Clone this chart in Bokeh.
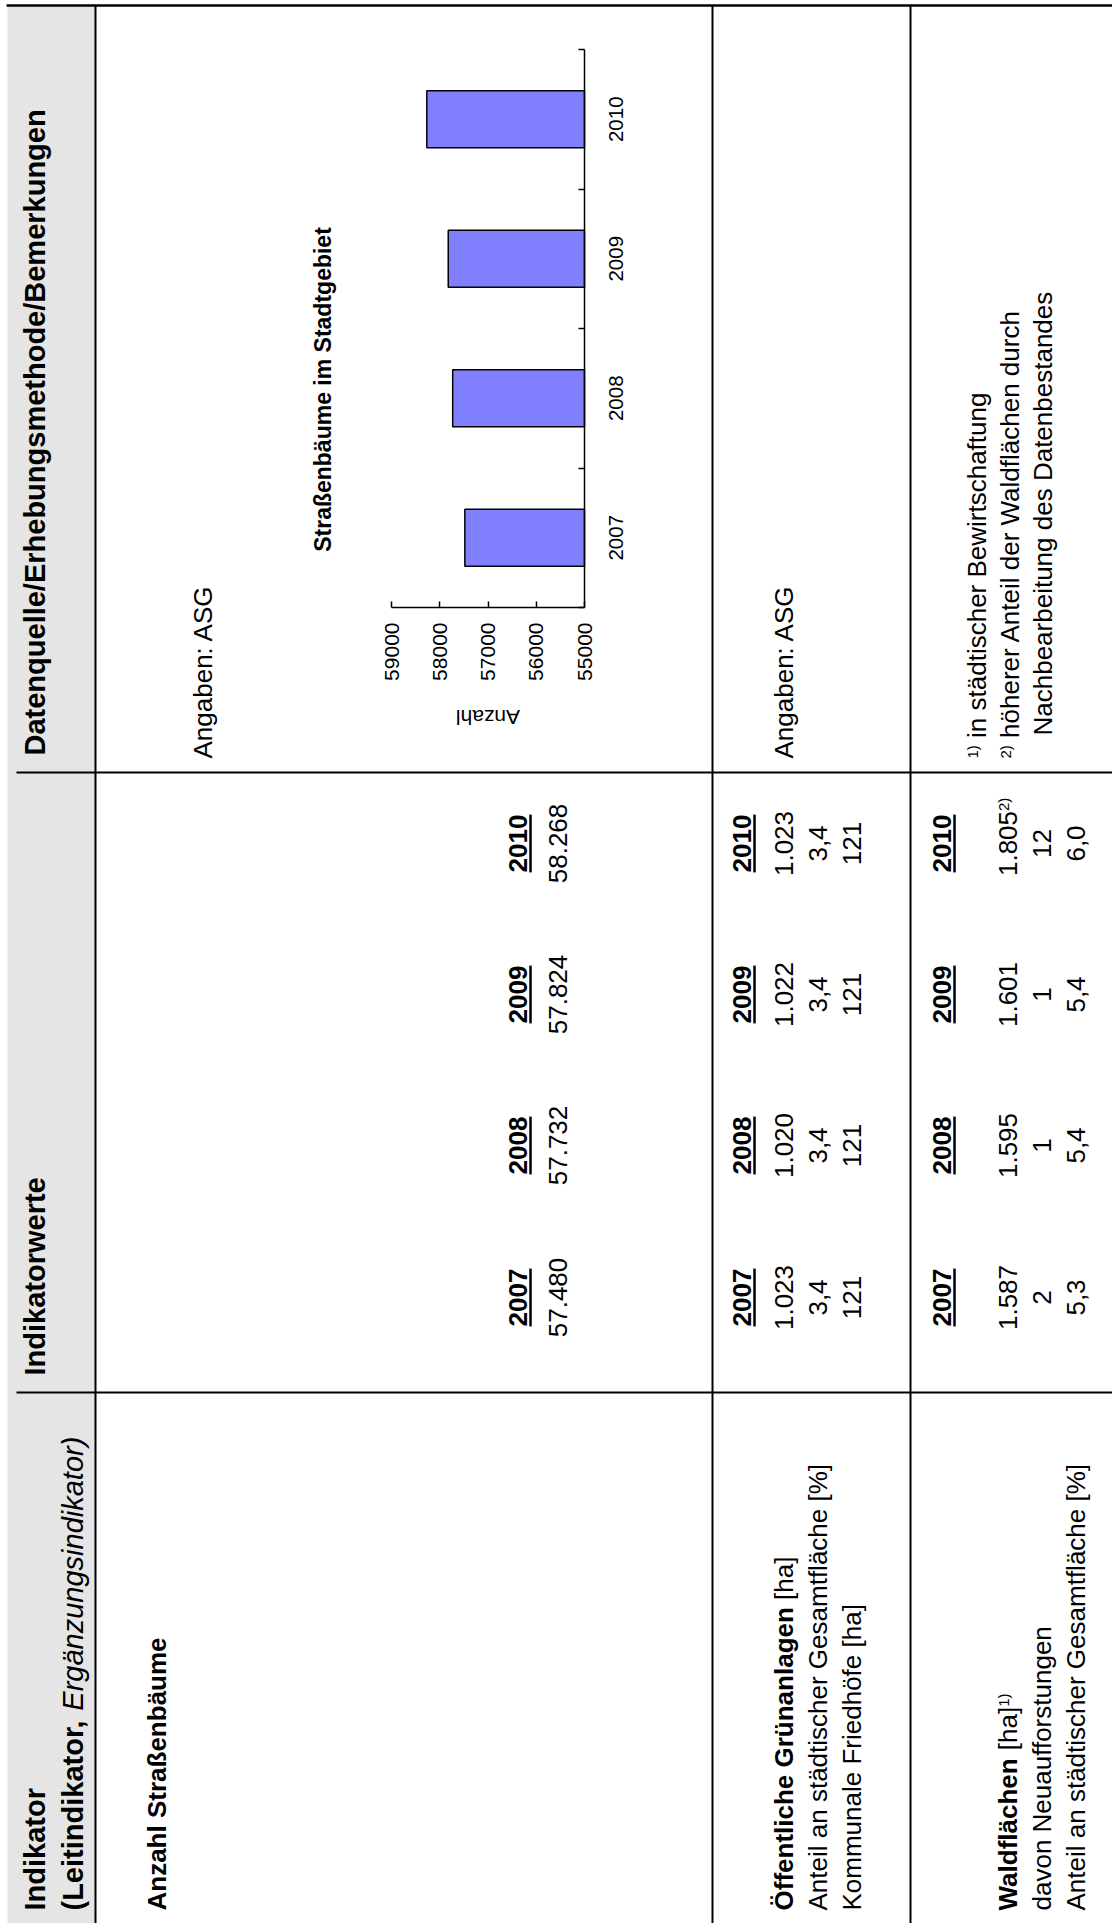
import math
from bokeh.plotting import figure
from bokeh.models import Range1d, LinearAxis, FixedTicker, ColumnDataSource, NumeralTickFormatter
from bokeh.core.properties import value
from bokeh.embed import file_html
from bokeh.resources import INLINE

# ---------------- data ----------------
years = [2007, 2008, 2009, 2010]
strassenbaeume = [57480, 57732, 57824, 58268]
gruen_flaeche = ["1.023", "1.020", "1.022", "1.023"]
gruen_anteil = ["3,4", "3,4", "3,4", "3,4"]
friedhoefe = ["121", "121", "121", "121"]
wald_flaeche = ["1.587", "1.595", "1.601", "1.805"]
wald_neu = ["2", "1", "1", "12"]
wald_anteil = ["5,3", "5,4", "5,4", "6,0"]
value_ticks = [55000, 56000, 57000, 58000, 59000]
chart_title = "Straßenbäume im Stadtgebiet"
value_axis_label = "Anzahl"
source_note = "Angaben: ASG"

# ---------------- layout (page pixels) ----------------
PAGE_W, PAGE_H = 1112, 1923
FONT = "Liberation Sans"
GRAY = "#e5e5e5"
MID = 0.3465   # offset (in em) between box middle and alphabetic baseline

p = figure(width=PAGE_W, height=PAGE_H,
           x_range=Range1d(0, PAGE_W), y_range=Range1d(-PAGE_H, 0),
           output_backend="svg", toolbar_location=None, min_border=0,
           x_axis_location=None, y_axis_location=None, title=None)
p.grid.visible = False
p.outline_line_color = None
p.background_fill_color = "white"

# character widths (Arial / Liberation Sans metrics, 1/1000 em)
REG = {' ': 278, '(': 333, ')': 333, ',': 278, '.': 278, '/': 278, ':': 278, '[': 278, ']': 278,
       '%': 889, 'A': 667, 'B': 667, 'D': 722, 'E': 667, 'F': 611, 'G': 778, 'K': 667, 'N': 722,
       'S': 667, 'W': 944, 'Ö': 778, 'a': 556, 'b': 556, 'c': 500, 'd': 556, 'e': 556, 'f': 278,
       'g': 556, 'h': 556, 'i': 222, 'k': 500, 'l': 222, 'm': 833, 'n': 556, 'o': 556, 'r': 333,
       's': 500, 't': 278, 'u': 556, 'v': 500, 'w': 722, 'z': 500, 'ä': 556, 'ö': 556, 'ü': 556, 'ß': 611}
BOLD = {' ': 278, '(': 333, ')': 333, ',': 278, '.': 278, '/': 278, 'A': 722, 'B': 722, 'D': 722,
        'E': 667, 'G': 778, 'I': 278, 'L': 611, 'S': 667, 'W': 944, 'Ö': 778, 'a': 556, 'b': 611,
        'c': 556, 'd': 611, 'e': 556, 'f': 333, 'g': 611, 'h': 611, 'i': 278, 'k': 556, 'l': 278,
        'm': 889, 'n': 611, 'o': 611, 'r': 389, 's': 556, 't': 333, 'u': 611, 'w': 778, 'z': 500,
        'ä': 556, 'ö': 611, 'ü': 611, 'ß': 611}


def tw(s, size, bold=False):
    t = BOLD if bold else REG
    return sum(t.get(c, 556) for c in s) / 1000.0 * size


items = []


def put(text, xb, ys, size, style="normal", align="left"):
    """xb: screen x of the baseline, ys: screen y where the (upward running) text starts."""
    stripped = text.lstrip(" ")
    if align == "left":
        ys -= tw(text[:len(text) - len(stripped)], size, style == "bold")
    items.append((stripped.rstrip(" "), xb, ys, size, style, align))


# ---------------- table frame ----------------
ROW_X = [95, 712, 910]          # separators between rows (vertical lines)
COL_Y = [772, 1392]             # separators between columns (horizontal lines)
TOP_Y = 5

p.quad(left=[7], right=[ROW_X[0]], top=[-TOP_Y], bottom=[-PAGE_H], fill_color=GRAY, line_color=None)
p.segment(x0=[6], y0=[-TOP_Y], x1=[PAGE_W], y1=[-TOP_Y], line_color="black", line_width=2.5)
p.segment(x0=ROW_X, y0=[-TOP_Y] * 3, x1=ROW_X, y1=[-PAGE_H] * 3, line_color="black", line_width=2)
p.segment(x0=[16, 16], y0=[-v for v in COL_Y], x1=[PAGE_W, PAGE_W], y1=[-v for v in COL_Y],
          line_color="black", line_width=2)

# ---------------- header column ----------------
H = 29
put("Datenquelle/Erhebungsmethode/Bemerkungen", 45, 755, H, "bold")
put("Indikatorwerte", 45, 1375, H, "bold")
put("Indikator", 45, 1910, H, "bold")
part = "(Leitindikator, "
put(part, 83, 1910, H, "bold")
put("Ergänzungsindikator)", 83, 1910 - tw(part, H, True), H, "italic")

# ---------------- indicator values ----------------
B = 26
SUP = 15
COLS = [1297, 1145, 994, 843]    # centres of the four year columns
underlines = []


def year_line(xb):
    for yr, yc in zip(years, COLS):
        s = str(yr)
        put(s, xb, yc, B, "bold", "center")
        w = tw(s, B, True)
        underlines.append((xb + 3, yc - w / 2, yc + w / 2))


def value_line(xb, vals):
    for v, yc in zip(vals, COLS):
        put(v, xb, yc, B, "normal", "center")


# row 1: Straßenbäume
put("Anzahl Straßenbäume", 166, 1910, B, "bold")
put(source_note, 212, 758, B)
year_line(527)
value_line(567, [f"{v:,}".replace(",", ".") for v in strassenbaeume])

# row 2: Grünanlagen
year_line(751)
value_line(793, gruen_flaeche)
value_line(827, gruen_anteil)
value_line(861, friedhoefe)
t1 = "Öffentliche Grünanlagen"
put(t1, 793, 1910, B, "bold")
put(" [ha]", 793, 1910 - tw(t1, B, True), B)
put("Anteil an städtischer Gesamtfläche [%]", 827, 1910, B)
put("Kommunale Friedhöfe [ha]", 861, 1910, B)
put(source_note, 793, 758, B)

# row 3: Waldflächen
year_line(951)
value_line(1017, wald_flaeche[:3] + [""])
put(wald_flaeche[3], 1017, COLS[3], B, "normal", "center")
put("2)", 1008, COLS[3] - tw(wald_flaeche[3], B) / 2, SUP)
value_line(1051, wald_neu)
value_line(1085, wald_anteil)
t1 = "Waldflächen"
put(t1, 1017, 1910, B, "bold")
y2 = 1910 - tw(t1, B, True)
put(" [ha]", 1017, y2, B)
put("1)", 1008, y2 - tw(" [ha]", B), SUP)
put("davon Neuaufforstungen", 1051, 1910, B)
put("Anteil an städtischer Gesamtfläche [%]", 1085, 1910, B)

# footnotes
put("1)", 977, 758, SUP)
put(" in städtischer Bewirtschaftung", 986, 758 - tw("1)", SUP), B)
put("2)", 1010, 758, SUP)
put(" höherer Anteil der Waldflächen durch", 1019, 758 - tw("2)", SUP), B)
put("Nachbearbeitung des Datenbestandes", 1052, 735, B)

# chart title
put(chart_title, 330, 389, 23, "bold", "center")

# draw texts grouped by style (middle baseline, shifted so the glyph baseline sits at xb)
groups = {}
for text, xb, ys, size, style, align in items:
    if not text:
        continue
    g = groups.setdefault((size, style, align), {"x": [], "y": [], "text": []})
    g["x"].append(xb - MID * size)
    g["y"].append(-ys)
    g["text"].append(text)
for (size, style, align), d in groups.items():
    p.text(x="x", y="y", text="text", source=ColumnDataSource(d), angle=math.pi / 2,
           text_font=value(FONT), text_font_size=f"{size}px", text_font_style=style,
           text_align=align, text_baseline="middle", text_color="black")

p.segment(x0=[u[0] for u in underlines], y0=[-u[1] for u in underlines],
          x1=[u[0] for u in underlines], y1=[-u[2] for u in underlines],
          line_color="black", line_width=2.5)

# ---------------- bar chart (rotated, horizontal bars) ----------------
VAL_PX_BASE, VAL_PX_TOP = 584, 391       # screen x of first and last value tick
px_per_unit = (VAL_PX_BASE - VAL_PX_TOP) / (value_ticks[-1] - value_ticks[0])
BAND, FIRST_CENTER = 139.5, 537.25       # px per category, screen y of first category
AXIS_Y = FIRST_CENTER + BAND / 2         # screen y of the value axis
p.extra_x_ranges = {"val": Range1d(start=value_ticks[0] + VAL_PX_BASE / px_per_unit,
                                   end=value_ticks[0] - (PAGE_W - VAL_PX_BASE) / px_per_unit)}
p.extra_y_ranges = {"cat": Range1d(start=years[0] - (PAGE_H - FIRST_CENTER) / BAND,
                                   end=years[0] + FIRST_CENTER / BAND)}

p.hbar(y=years, height=0.41, left=value_ticks[0], right=strassenbaeume,
       x_range_name="val", y_range_name="cat",
       fill_color="#8080ff", line_color="black", line_width=1.5)

axis_base = years[0] - 0.5
vax = LinearAxis(x_range_name="val", y_range_name="cat",
                 ticker=FixedTicker(ticks=value_ticks),
                 formatter=NumeralTickFormatter(format="0"),
                 bounds=(value_ticks[0], value_ticks[-1]),
                 fixed_location=axis_base,
                 major_tick_in=6, major_tick_out=0, minor_tick_line_color=None,
                 axis_line_width=1.5, major_tick_line_width=1.5,
                 major_label_text_color=None)
p.add_layout(vax, "below")

bounds_ticks = [y - 0.5 for y in years] + [years[-1] + 0.5]
cax = LinearAxis(x_range_name="val", y_range_name="cat",
                 ticker=FixedTicker(ticks=years, minor_ticks=bounds_ticks),
                 bounds=(bounds_ticks[0], bounds_ticks[-1]),
                 fixed_location=value_ticks[0],
                 major_tick_line_color=None,
                 minor_tick_in=6, minor_tick_out=0, minor_tick_line_width=1.5,
                 minor_tick_line_color="black",
                 axis_line_width=1.5, major_label_text_color=None)
p.add_layout(cax, "right")

# rotated tick labels (read bottom-to-top): x through the value range, y in page pixels
TICK_GAP = 15          # px between value axis and the end of its labels
p.text(x=value_ticks, y=[-(AXIS_Y + TICK_GAP)] * len(value_ticks),
       text=[str(t) for t in value_ticks], x_range_name="val",
       angle=math.pi / 2, text_align="right", text_baseline="middle",
       text_font=value(FONT), text_font_size="21px", text_color="black")

# category labels: y through the category range, x in page pixels
CAT_X = VAL_PX_BASE + 31
p.text(x=[CAT_X] * len(years), y=years,
       text=[str(y) for y in years], y_range_name="cat",
       angle=math.pi / 2, text_align="center", text_baseline="middle",
       text_font=value(FONT), text_font_size="20.5px", text_color="black")

# axis title "Anzahl" (upside down as in the scanned page), centred under the value axis
LABEL_Y = 717
p.text(x=[sum(value_ticks) / len(value_ticks)], y=[-LABEL_Y], text=[value_axis_label],
       x_range_name="val", angle=math.pi, text_align="center", text_baseline="middle",
       text_font=value(FONT), text_font_size="21px", text_color="black")

open("out.html", "w").write(file_html(p, INLINE))
